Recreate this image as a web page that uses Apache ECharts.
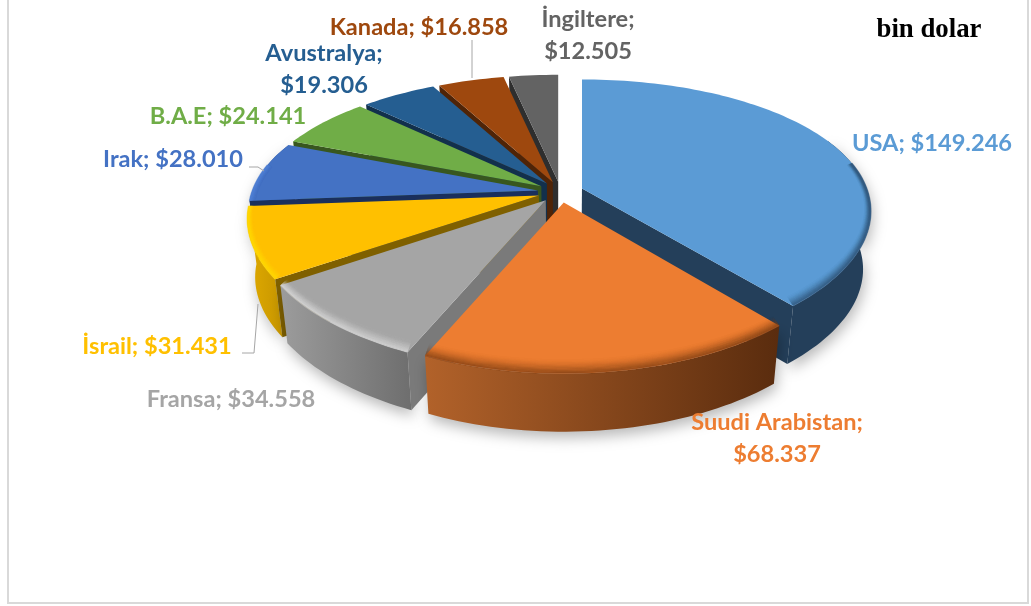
<!DOCTYPE html>
<html>
<head>
<meta charset="utf-8">
<title>Pie</title>
<style>
html, body { margin: 0; padding: 0; background: #fff; }
#main { width: 1031px; height: 606px; }
</style>
<script src="https://cdn.jsdelivr.net/npm/echarts@6/dist/echarts.min.js"></script>
</head>
<body>
<div id="main"></div>
<script>
// veriler
var countries = ['USA', 'Suudi Arabistan', 'Fransa', 'İsrail', 'Irak', 'B.A.E', 'Avustralya', 'Kanada', 'İngiltere'];
var amounts = [149.246, 68.337, 34.558, 31.431, 28.010, 24.141, 19.306, 16.858, 12.505];

// renkler
var topColors = ['#5b9bd5', '#ed7d31', '#a5a5a5', '#ffc000', '#4472c4', '#70ad47', '#255e91', '#9e480e', '#636363'];
var wallLeft = ['#243f5a', '#b2622a', '#9c9c9c', '#e0aa00', '#3a62aa', '#5f9a3b', '#1f4f7a', '#7f3a0b', '#4a4a4a'];
var wallRight = ['#243f5a', '#5a2c0e', '#6e6e6e', '#c79600', '#2f5597', '#4e7f31', '#1a4265', '#6a300a', '#3c3c3c'];
var sideColors = ['#243f5a', '#5a2c0e', '#7a7a7a', '#7f6000', '#1a2f5c', '#38571f', '#12304c', '#4f2407', '#2e2e2e'];
var bevelColors = ['#2f5478', '#7c3d12', '#d8d8d8', '#ffd900', '#4f7fd4', '#7fbd52', '#2b6aa3', '#b0531a', '#757575'];
var labelColors = topColors;

// etiket yerleri
var labelLines = [
  ['USA; $149.246'],
  ['Suudi Arabistan;', '$68.337'],
  ['Fransa; $34.558'],
  ['İsrail; $31.431'],
  ['Irak; $28.010'],
  ['B.A.E; $24.141'],
  ['Avustralya;', '$19.306'],
  ['Kanada; $16.858'],
  ['İngiltere;', '$12.505']
];
var labelPos = [[932, 143], [777, 422], [231, 399], [157, 346], [173, 159], [228, 116], [324, 53], [419, 27], [588, 19]];

// pasta geometrisi
var cx = 560.5, cy = 192, Rx = 286, Ry = 132, kx = 0.17, ky = 0.2, depth = 58, explode = 0.08;

var total = amounts.reduce(function (a, b) { return a + b; }, 0);

var sliceData = [];
var run = 0;
amounts.forEach(function (v, i) {
  var a1 = run / total * Math.PI * 2;
  run += v;
  var a2 = run / total * Math.PI * 2;
  sliceData.push({ value: [v, a1, a2, i], name: countries[i] });
});
// arkadan one dogru ciz
sliceData.sort(function (a, b) {
  var ma = (a.value[1] + a.value[2]) / 2, mb = (b.value[1] + b.value[2]) / 2;
  return Math.cos(mb) - Math.cos(ma);
});

// ou, ov: dilimin disari kayma miktari; du, dv: merkezden kenara
var project = function (ou, ov, du, dv, low) {
  var v = ov + dv;
  var x = Rx * du / (1 - kx * v);
  var y = Ry * v / (1 - ky * v);
  x = x + Rx * ou;
  if (low) {
    x = x * 0.975;
    y = y + depth;
  }
  return [cx + x, cy + y];
};

var renderSlice = function (params, api) {
  var a1 = api.value(1), a2 = api.value(2), idx = api.value(3);
  var mid = (a1 + a2) / 2;
  var ou = explode * Math.sin(mid), ov = -explode * Math.cos(mid);
  var steps = Math.max(6, Math.round((a2 - a1) * 40));
  var topPts = [project(ou, ov, 0, 0, false)];
  var rimTop = [], rimLow = [];
  for (var i = 0; i <= steps; i++) {
    var t = a1 + (a2 - a1) * i / steps;
    var pTop = project(ou, ov, Math.sin(t), -Math.cos(t), false);
    topPts.push(pTop);
    // arkaya bakan duvar gorunmez
    if (Math.cos(t) < 0.4) {
      rimTop.push(pTop);
      rimLow.push(project(ou, ov, Math.sin(t), -Math.cos(t), true));
    }
  }
  var children = [];
  // dis duvar
  if (rimTop.length > 1) {
    children.push({
      type: 'polygon',
      shape: { points: rimTop.concat(rimLow.slice().reverse()) },
      style: {
        fill: new echarts.graphic.LinearGradient(0, 0, 1, 0, [
          { offset: 0, color: wallLeft[idx] },
          { offset: 1, color: wallRight[idx] }
        ]),
        shadowBlur: 14,
        shadowOffsetY: 6,
        shadowOffsetX: 2,
        shadowColor: 'rgba(0,0,0,0.28)'
      }
    });
  }
  // kesit duvarlari
  var addSide = function (a) {
    var du = Math.sin(a), dv = -Math.cos(a);
    children.push({
      type: 'polygon',
      shape: { points: [
        project(ou, ov, 0, 0, false), project(ou, ov, du, dv, false),
        project(ou, ov, du, dv, true), project(ou, ov, 0, 0, true)
      ] },
      style: { fill: sideColors[idx] }
    });
  };
  if (Math.sin(a1) < -0.01) addSide(a1);
  if (Math.sin(a2) > 0.01) addSide(a2);
  // ust yuz
  children.push({
    type: 'polygon',
    shape: { points: topPts },
    style: { fill: topColors[idx] }
  });
  // kenar yumusatma
  var bandCount = 14;
  for (var n = 0; n < bandCount; n++) {
    var b = 0.07 * (1 - (n + 0.5) / bandCount);
    var fu = 1 - b * 0.3, fv = 1 - b;
    var pts = [];
    for (var j = 0; j <= steps; j++) {
      var tt = a1 + (a2 - a1) * j / steps;
      var face = -Math.cos(tt) * 1.6 + 0.35;
      if (face > 0) {
        pts.push(project(ou, ov, Math.sin(tt) * fu, -Math.cos(tt) * fv, false));
      }
    }
    if (pts.length > 1) {
      children.push({
        type: 'polyline',
        silent: true,
        shape: { points: pts },
        style: { stroke: bevelColors[idx], lineWidth: 2, opacity: Math.pow((n + 1) / bandCount, 2) * 0.55, fill: null }
      });
    }
  }
  return { type: 'group', children: children };
};

var chart = echarts.init(document.getElementById('main'));

var graphicItems = [
  { type: 'polyline', shape: { points: [[8, 0], [8, 603], [1028, 603], [1028, 0]] }, style: { stroke: '#d9d9d9', lineWidth: 2, fill: null }, silent: true },
  { type: 'polyline', z: 5, shape: { points: [[249, 167], [258, 167], [264, 171]] }, style: { stroke: '#a6a6a6', lineWidth: 1, fill: null } },
  { type: 'polyline', z: 5, shape: { points: [[242, 353], [254, 353], [258, 304]] }, style: { stroke: '#a6a6a6', lineWidth: 1, fill: null } },
  { type: 'line', z: 5, shape: { x1: 472, y1: 40, x2: 472, y2: 78 }, style: { stroke: '#a6a6a6', lineWidth: 1 } },
  { type: 'text', z: 20, x: 929, y: 30, style: { text: 'bin dolar', fill: '#000', font: 'bold 26.8px "Liberation Serif"', textAlign: 'center', textVerticalAlign: 'middle' } }
];
labelLines.forEach(function (lines, i) {
  lines.forEach(function (line, n) {
    graphicItems.push({
      type: 'text', z: 20,
      x: labelPos[i][0],
      y: labelPos[i][1] + n * 32.5,
      style: {
        text: line,
        fill: labelColors[i],
        font: 'bold 23.6px Lato',
        textAlign: 'center',
        textVerticalAlign: 'middle'
      }
    });
  });
});

chart.setOption({
  animation: false,
  backgroundColor: '#fff',
  graphic: graphicItems,
  series: [{
    type: 'custom',
    coordinateSystem: 'none',
    renderItem: renderSlice,
    data: sliceData,
    silent: true
  }]
});
</script>
</body>
</html>
